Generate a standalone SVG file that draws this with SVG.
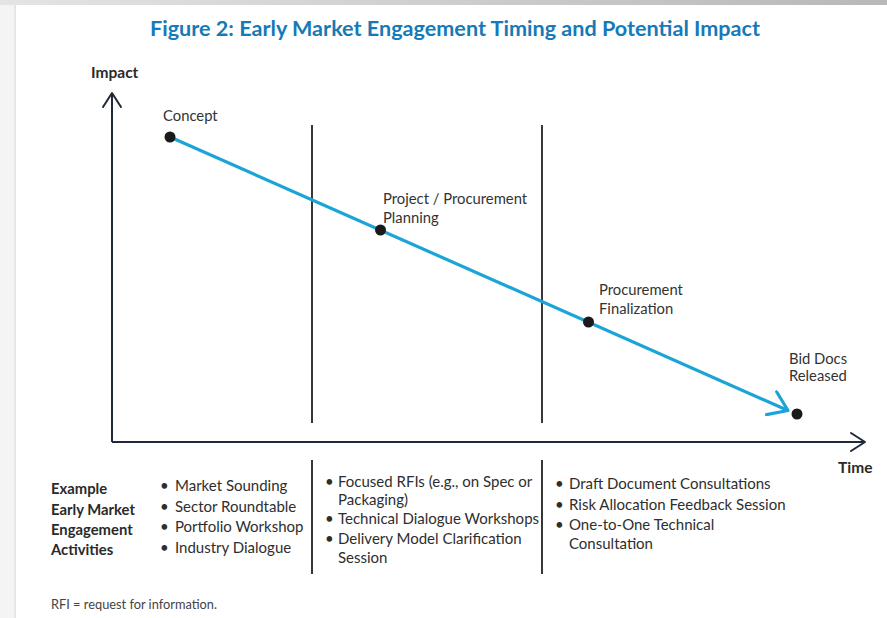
<svg xmlns="http://www.w3.org/2000/svg" width="887" height="618" viewBox="0 0 887 618">
<defs>
<linearGradient id="topband" x1="0" y1="0" x2="1" y2="0">
<stop offset="0" stop-color="#e4e4e4"/>
<stop offset="1" stop-color="#b8b8b8"/>
</linearGradient>
<marker id="blueHead" viewBox="-24 -14 28 28" markerWidth="28" markerHeight="28" refX="0" refY="0" orient="auto" markerUnits="userSpaceOnUse">
<path d="M-18,-12.5 L0,0 L-18,12.5" fill="none" stroke="#1ba5d6" stroke-width="3.2" stroke-linecap="round" stroke-linejoin="round"/>
</marker>
<marker id="axisHead" viewBox="-16 -11 18 22" markerWidth="18" markerHeight="22" refX="0" refY="0" orient="auto" markerUnits="userSpaceOnUse">
<path d="M-14,-9 L0,0 L-14,9" fill="none" stroke="#1e2a3a" stroke-width="2" stroke-linecap="round" stroke-linejoin="round"/>
</marker>
</defs>
<style>
.lbl{font-family:Lato,"Liberation Sans",sans-serif;font-size:14.8px;fill:#333333}
.bold{font-family:Lato,"Liberation Sans",sans-serif;font-size:14.8px;font-weight:bold;fill:#2a2a2a}
.body{font-family:Lato,"Liberation Sans",sans-serif;font-size:15px;fill:#2e2e2e}
.dot{fill:#1a1a1a}
.axis{stroke:#1e2a3a;stroke-width:2;fill:none}
.div{stroke:#222222;stroke-width:1.8;fill:none}
.blue{stroke:#1ba5d6;stroke-width:3.2;fill:none}
</style>
<rect x="0" y="0" width="887" height="618" fill="#ffffff"/>
<rect x="0" y="0" width="16" height="618" fill="#f4f4f4"/>
<rect x="14" y="5" width="2" height="613" fill="#e6e6e6"/>
<rect x="0" y="0" width="887" height="5" fill="url(#topband)"/>

<text x="455" y="36" text-anchor="middle" textLength="610" lengthAdjust="spacingAndGlyphs" style="font-family:Lato,'Liberation Sans',sans-serif;font-size:21px;font-weight:bold;fill:#1679b8">Figure 2: Early Market Engagement Timing and Potential Impact</text>

<g id="axes">
<line class="axis" x1="112" y1="442" x2="112" y2="93" marker-end="url(#axisHead)"/>
<line class="axis" x1="112" y1="442" x2="865" y2="442" marker-end="url(#axisHead)"/>
<text class="bold" x="91" y="78" style="font-size:15.5px">Impact</text>
<text class="bold" x="838" y="473" style="font-size:15.5px">Time</text>
</g>

<g id="dividers">
<line class="div" x1="312" y1="125" x2="312" y2="423"/>
<line class="div" x1="542" y1="125" x2="542" y2="423"/>
<line class="div" x1="312" y1="460" x2="312" y2="574"/>
<line class="div" x1="542" y1="460" x2="542" y2="574"/>
</g>

<g id="connectors">
<line class="blue" x1="170" y1="137" x2="788" y2="410.5" marker-end="url(#blueHead)"/>
</g>

<g id="node-concept">
<circle class="dot" cx="170" cy="137" r="5.5"/>
<text class="lbl" x="163" y="121">Concept</text>
</g>
<g id="node-planning">
<circle class="dot" cx="380.5" cy="230" r="5.5"/>
<text class="lbl" x="383" y="204">Project / Procurement</text>
<text class="lbl" x="383" y="223">Planning</text>
</g>
<g id="node-finalization">
<circle class="dot" cx="588.5" cy="322" r="5.5"/>
<text class="lbl" x="599" y="295">Procurement</text>
<text class="lbl" x="599" y="314">Finalization</text>
</g>
<g id="node-biddocs">
<circle class="dot" cx="797" cy="414" r="5.5"/>
<text class="lbl" x="789" y="364">Bid Docs</text>
<text class="lbl" x="789" y="381">Released</text>
</g>

<g id="activities-heading">
<text class="bold" x="51" y="494">Example</text>
<text class="bold" x="51" y="515">Early Market</text>
<text class="bold" x="51" y="535">Engagement</text>
<text class="bold" x="51" y="555">Activities</text>
</g>

<g id="activities-col1">
<text class="body" x="160" y="491">•</text><text class="body" x="175" y="491">Market Sounding</text>
<text class="body" x="160" y="511.5">•</text><text class="body" x="175" y="511.5">Sector Roundtable</text>
<text class="body" x="160" y="532">•</text><text class="body" x="175" y="532">Portfolio Workshop</text>
<text class="body" x="160" y="552.5">•</text><text class="body" x="175" y="552.5">Industry Dialogue</text>
</g>

<g id="activities-col2">
<text class="body" x="325" y="486.5">•</text><text class="body" x="338" y="486.5">Focused RFIs (e.g., on Spec or</text>
<text class="body" x="338" y="505">Packaging)</text>
<text class="body" x="325" y="524">•</text><text class="body" x="338" y="524">Technical Dialogue Workshops</text>
<text class="body" x="325" y="543.5">•</text><text class="body" x="338" y="543.5">Delivery Model Clarification</text>
<text class="body" x="338" y="562.5">Session</text>
</g>

<g id="activities-col3">
<text class="body" x="555" y="488.5">•</text><text class="body" x="569" y="488.5">Draft Document Consultations</text>
<text class="body" x="555" y="510">•</text><text class="body" x="569" y="510">Risk Allocation Feedback Session</text>
<text class="body" x="555" y="530">•</text><text class="body" x="569" y="530">One-to-One Technical</text>
<text class="body" x="569" y="548.5">Consultation</text>
</g>

<text x="51" y="609" style="font-family:Lato,'Liberation Sans',sans-serif;font-size:12.8px;fill:#444444">RFI = request for information.</text>
</svg>
